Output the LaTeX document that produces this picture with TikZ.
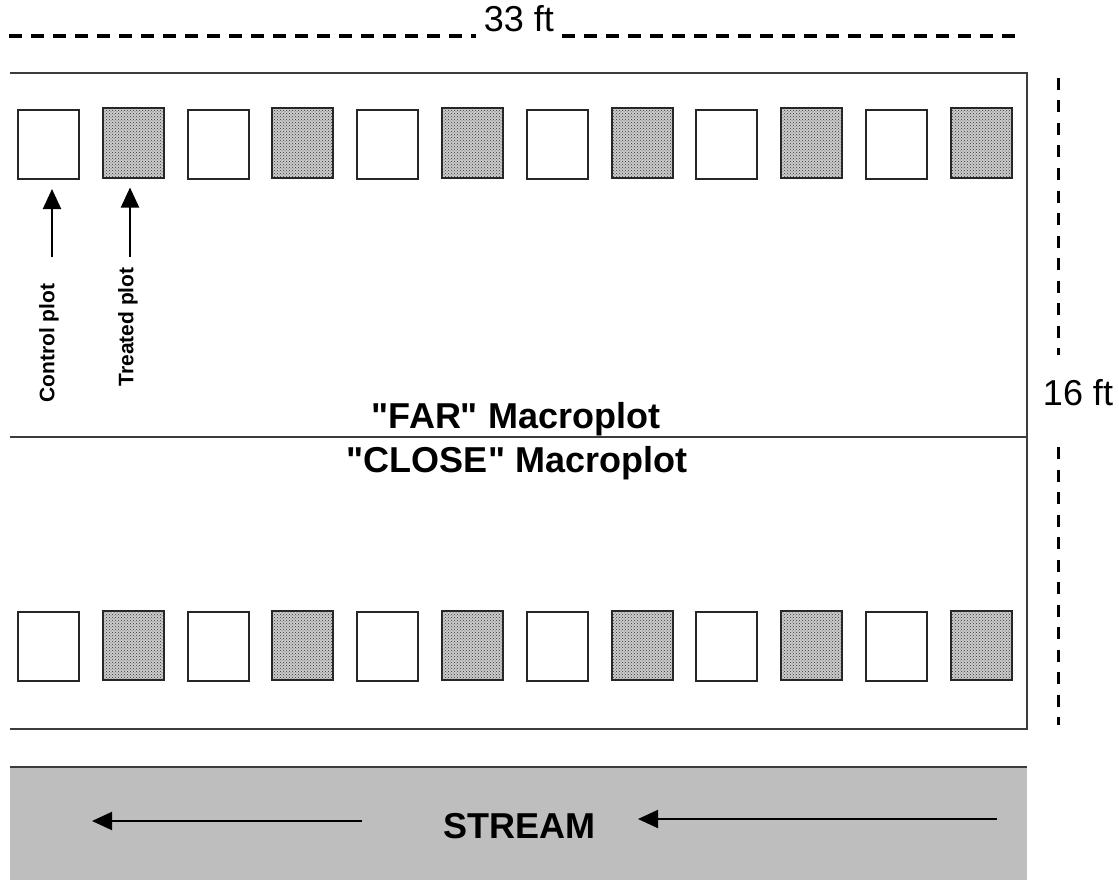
\documentclass[tikz,border=0pt]{standalone}
\usepackage{fontspec}
\setmainfont{Liberation Sans}[Ligatures=TeXOff]
\usetikzlibrary{arrows.meta,patterns,calc}
\definecolor{streamgray}{RGB}{190,190,190}
\definecolor{edgegray}{RGB}{60,60,60}
\tikzset{
  ctlplot/.style={draw=black!85,line width=2pt,minimum width=61pt,minimum height=69pt,inner sep=0pt,fill=white},
  trtplot/.style={ctlplot,fill=gray!40,postaction={pattern=crosshatch dots,pattern color=black!80}},
  edgeline/.style={draw=edgegray,line width=2pt},
  dimline/.style={line width=3.5pt,dash pattern=on 13pt off 9pt},
  plotarrow/.style={line width=2pt,-{Triangle[length=20pt,width=18pt]}},
  sidelabel/.style={rotate=90,inner sep=0pt,font=\bfseries\fontsize{21}{24}\selectfont},
  biglabel/.style={inner sep=0pt,font=\bfseries\fontsize{36}{40}\selectfont}
}
\begin{document}
\begin{tikzpicture}[x=1pt,y=-1pt]
        \useasboundingbox (0,0) rectangle (1119,880);
        % Overall length
        \node[anchor=base,inner sep=8pt,font=\fontsize{36}{40}\selectfont] (len) at (519,32) {33 ft};
        \coordinate (lenleft) at (9,36);
        \coordinate (lenright) at (1020,36);
        \draw[dimline] (lenleft) -- (lenleft -| len.west);
        \draw[dimline] (len.east |- lenright) -- (lenright);
        % Overall width
        \node[font=\fontsize{36}{40}\selectfont] (wid) at (1078,393) {16 ft};
        \draw[line width=3pt,dash pattern=on 12pt off 10.5pt] (1058,78) -- (1058,355);
        \draw[line width=3pt,dash pattern=on 12pt off 10.5pt] (1058,447) -- (1058,725);
        % Macroplots
        \draw[edgeline] (10,73) -- (1027,73) -- (1027,729) -- (10,729);
        \draw[edgeline] (10,437) -- (1027,437);
        \node[biglabel,anchor=base] (far) at (516,428) {"FAR" Macroplot};
        \node[biglabel,anchor=base] (close) at (517,472) {"CLOSE" Macroplot};
        % Plots
        \foreach \i in {1,3,...,11} {
            \node[ctlplot] (far\i) at ({48.5+84.8*(\i-1)},144.5) {};
            \node[ctlplot] (close\i) at ({48.5+84.8*(\i-1)},646) {};
        }
        \foreach \i in {2,4,...,12} {
            \node[trtplot] (far\i) at ({48.5+84.8*(\i-1)},143) {};
            \node[trtplot] (close\i) at ({48.5+84.8*(\i-1)},645) {};
        }
        % Legend arrows
        \node[sidelabel] (ctl) at (49,343) {Control plot};
        \node[sidelabel] (trt) at (128,327) {Treated plot};
        \coordinate (ctltail) at (52,257);
        \coordinate (trttail) at (130,257);
        \draw[plotarrow] (ctltail) -- ($(ctltail |- far1.south)+(0,9)$);
        \draw[plotarrow] (trttail) -- ($(trttail |- far2.south)+(0,9)$);
        % Stream
        \fill[streamgray] (10,767) rectangle (1027,880);
        \draw[edgeline] (10,767) -- (1027,767);
        \node[biglabel,anchor=base] (stream) at (519.5,838) {STREAM};
        \coordinate (lefttail) at (362,821);
        \coordinate (lefttip) at (92,821);
        \coordinate (righttail) at (997,819);
        \coordinate (righttip) at (638,819);
        \draw[plotarrow] (lefttail) -- (lefttip);
        \draw[plotarrow] (righttail) -- (righttip);
    \end{tikzpicture}
\end{document}
